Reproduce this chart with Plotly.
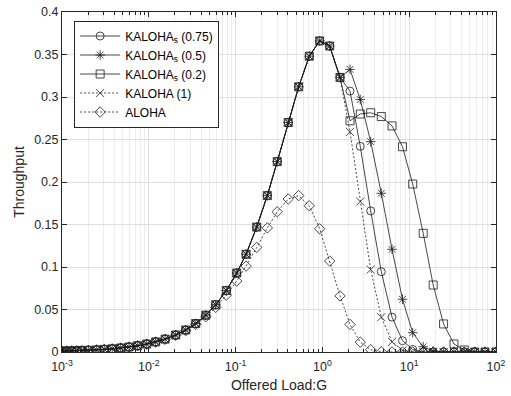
import plotly.graph_objects as go

# Offered load G (x values)
G = [0.001, 0.00113, 0.00129, 0.00148, 0.00169, 0.00201, 0.00251, 0.00307, 0.00379, 0.00474,
     0.00591, 0.00745, 0.00946, 0.0120, 0.0154, 0.0204, 0.0266, 0.0347, 0.0453, 0.0590,
     0.0782, 0.103, 0.132, 0.175, 0.232, 0.302, 0.404, 0.533, 0.706, 0.931,
     1.213, 1.595, 2.08, 2.73, 3.60, 4.77, 6.34, 8.37, 10.97, 14.5,
     18.9, 24.9, 32.8, 43.1, 56.9, 74.7, 100]

kaloha_s_075 = [0.001, 0.00113, 0.00129, 0.00148, 0.00169, 0.00201, 0.0025, 0.00306, 0.00378, 0.00472,
                0.00588, 0.0074, 0.00937, 0.0119, 0.0152, 0.0200, 0.0259, 0.0335, 0.0433, 0.0556,
                0.0723, 0.0929, 0.115, 0.147, 0.184, 0.224, 0.270, 0.312, 0.348, 0.366,
                0.360, 0.323, 0.307, 0.242, 0.166, 0.0945, 0.041, 0.0133, 0.003, 0,
                0, 0, 0, 0, 0, 0, 0]

kaloha_s_05 = [0.001, 0.00113, 0.00129, 0.00148, 0.00169, 0.00201, 0.0025, 0.00306, 0.00378, 0.00472,
               0.00588, 0.0074, 0.00937, 0.0119, 0.0152, 0.0200, 0.0259, 0.0335, 0.0433, 0.0556,
               0.0723, 0.0929, 0.115, 0.147, 0.184, 0.224, 0.270, 0.312, 0.348, 0.366,
               0.360, 0.323, 0.3325, 0.297, 0.2475, 0.1867, 0.1208, 0.062, 0.0227, 0.0062,
               0.001, 0, 0, 0, 0, 0, 0]

kaloha_s_02 = [0.001, 0.00113, 0.00129, 0.00148, 0.00169, 0.00201, 0.0025, 0.00306, 0.00378, 0.00472,
               0.00588, 0.0074, 0.00937, 0.0119, 0.0152, 0.0200, 0.0259, 0.0335, 0.0433, 0.0556,
               0.0723, 0.0929, 0.115, 0.147, 0.184, 0.224, 0.270, 0.312, 0.348, 0.366,
               0.360, 0.323, 0.272, 0.280, 0.2815, 0.277, 0.266, 0.2415, 0.1976, 0.1396,
               0.0788, 0.033, 0.0094, 0.0024, 0, 0, 0]

kaloha_1 = [0.001, 0.00113, 0.00129, 0.00148, 0.00169, 0.00201, 0.0025, 0.00306, 0.00378, 0.00472,
            0.00588, 0.0074, 0.00937, 0.0119, 0.0152, 0.0200, 0.0259, 0.0335, 0.0433, 0.0556,
            0.0723, 0.0929, 0.115, 0.147, 0.184, 0.224, 0.270, 0.312, 0.348, 0.366,
            0.360, 0.323, 0.259, 0.177, 0.097, 0.041, 0.012, 0.002, 0, 0,
            0, 0, 0, 0, 0, 0, 0]

aloha = [0.000998, 0.00113, 0.00129, 0.00148, 0.00168, 0.0020, 0.0025, 0.00305, 0.00376, 0.0047,
         0.00584, 0.00734, 0.00928, 0.0117, 0.0149, 0.0196, 0.0252, 0.0324, 0.0414, 0.0525,
         0.0669, 0.0835, 0.101, 0.123, 0.146, 0.165, 0.180, 0.184, 0.172, 0.145,
         0.107, 0.066, 0.0324, 0.0116, 0.0027, 0.0003, 0, 0, 0, 0,
         0, 0, 0, 0, 0, 0, 0]

x_tickvals = [0.001, 0.01, 0.1, 1, 10, 100]
x_ticktext = ["10<sup>-3</sup>", "10<sup>-2</sup>", "10<sup>-1</sup>", "10<sup>0</sup>",
              "10<sup>1</sup>", "10<sup>2</sup>"]
y_tickvals = [0, 0.05, 0.1, 0.15, 0.2, 0.25, 0.3, 0.35, 0.4]

series = [
    ("KALOHA<sub>s</sub> (0.75)", kaloha_s_075, "circle-open", "solid"),
    ("KALOHA<sub>s</sub> (0.5)", kaloha_s_05, "asterisk-open", "solid"),
    ("KALOHA<sub>s</sub> (0.2)", kaloha_s_02, "square-open", "solid"),
    ("KALOHA (1)", kaloha_1, "x-thin-open", "2px,2px"),
    ("ALOHA", aloha, "diamond-open", "2px,2px"),
]

INK = "#262626"
FONT = "Liberation Sans, Arial, sans-serif"
fig = go.Figure()
for name, ys, sym, dash in series:
    fig.add_trace(go.Scatter(
        x=G, y=ys, name=name, mode="lines+markers",
        line=dict(color="#1a1a1a", width=0.8, dash=dash),
        marker=dict(symbol=sym, size=8, color="#1a1a1a",
                    line=dict(color="#1a1a1a", width=0.8)),
    ))

minor_vals = [m * 10 ** e for e in range(-3, 2) for m in range(2, 10)]

fig.update_layout(
    width=511, height=396,
    margin=dict(l=62, r=15, t=12, b=44, autoexpand=False),
    paper_bgcolor="white", plot_bgcolor="white",
    font=dict(family=FONT, size=12, color=INK),
    showlegend=True,
    legend=dict(x=0.028, y=0.975, xanchor="left", yanchor="top",
                bgcolor="white", bordercolor=INK, borderwidth=1,
                font=dict(family=FONT, size=12, color="#000"), tracegroupgap=0,
                itemwidth=40),
    xaxis=dict(type="log", range=[-3, 2], tickmode="array",
               tickvals=x_tickvals, ticktext=x_ticktext, automargin=False,
               ticklabeloverflow="allow",
               showgrid=True, gridcolor="#dedede", gridwidth=1,
               ticks="inside", ticklen=5, tickcolor=INK, ticklabelstandoff=3,
               showline=True, linecolor=INK, linewidth=1, mirror="ticks",
               zeroline=False,
               minor=dict(tickmode="array", tickvals=minor_vals, showgrid=True,
                          gridcolor="#ececec", gridwidth=1, ticks="inside",
                          ticklen=3, tickcolor=INK),
               title=dict(text="Offered Load:G", font=dict(family=FONT, size=14), standoff=7),
               tickfont=dict(family=FONT, size=12.5)),
    yaxis=dict(range=[0, 0.4], tickmode="array", tickvals=y_tickvals, automargin=False,
               ticklabeloverflow="allow",
               showgrid=True, gridcolor="#dedede", gridwidth=1,
               ticks="inside", ticklen=5, tickcolor=INK,
               showline=True, linecolor=INK, linewidth=1, mirror="ticks",
               zeroline=False,
               title=dict(text="Throughput", font=dict(family=FONT, size=14), standoff=6),
               tickfont=dict(family=FONT, size=12.5)),
)

# remove the default 8px page margin so the 511x396 figure fills the window
fig.write_html("out.html", config={"displayModeBar": False},
               post_script="document.body.style.margin='0';document.body.style.padding='0';")
